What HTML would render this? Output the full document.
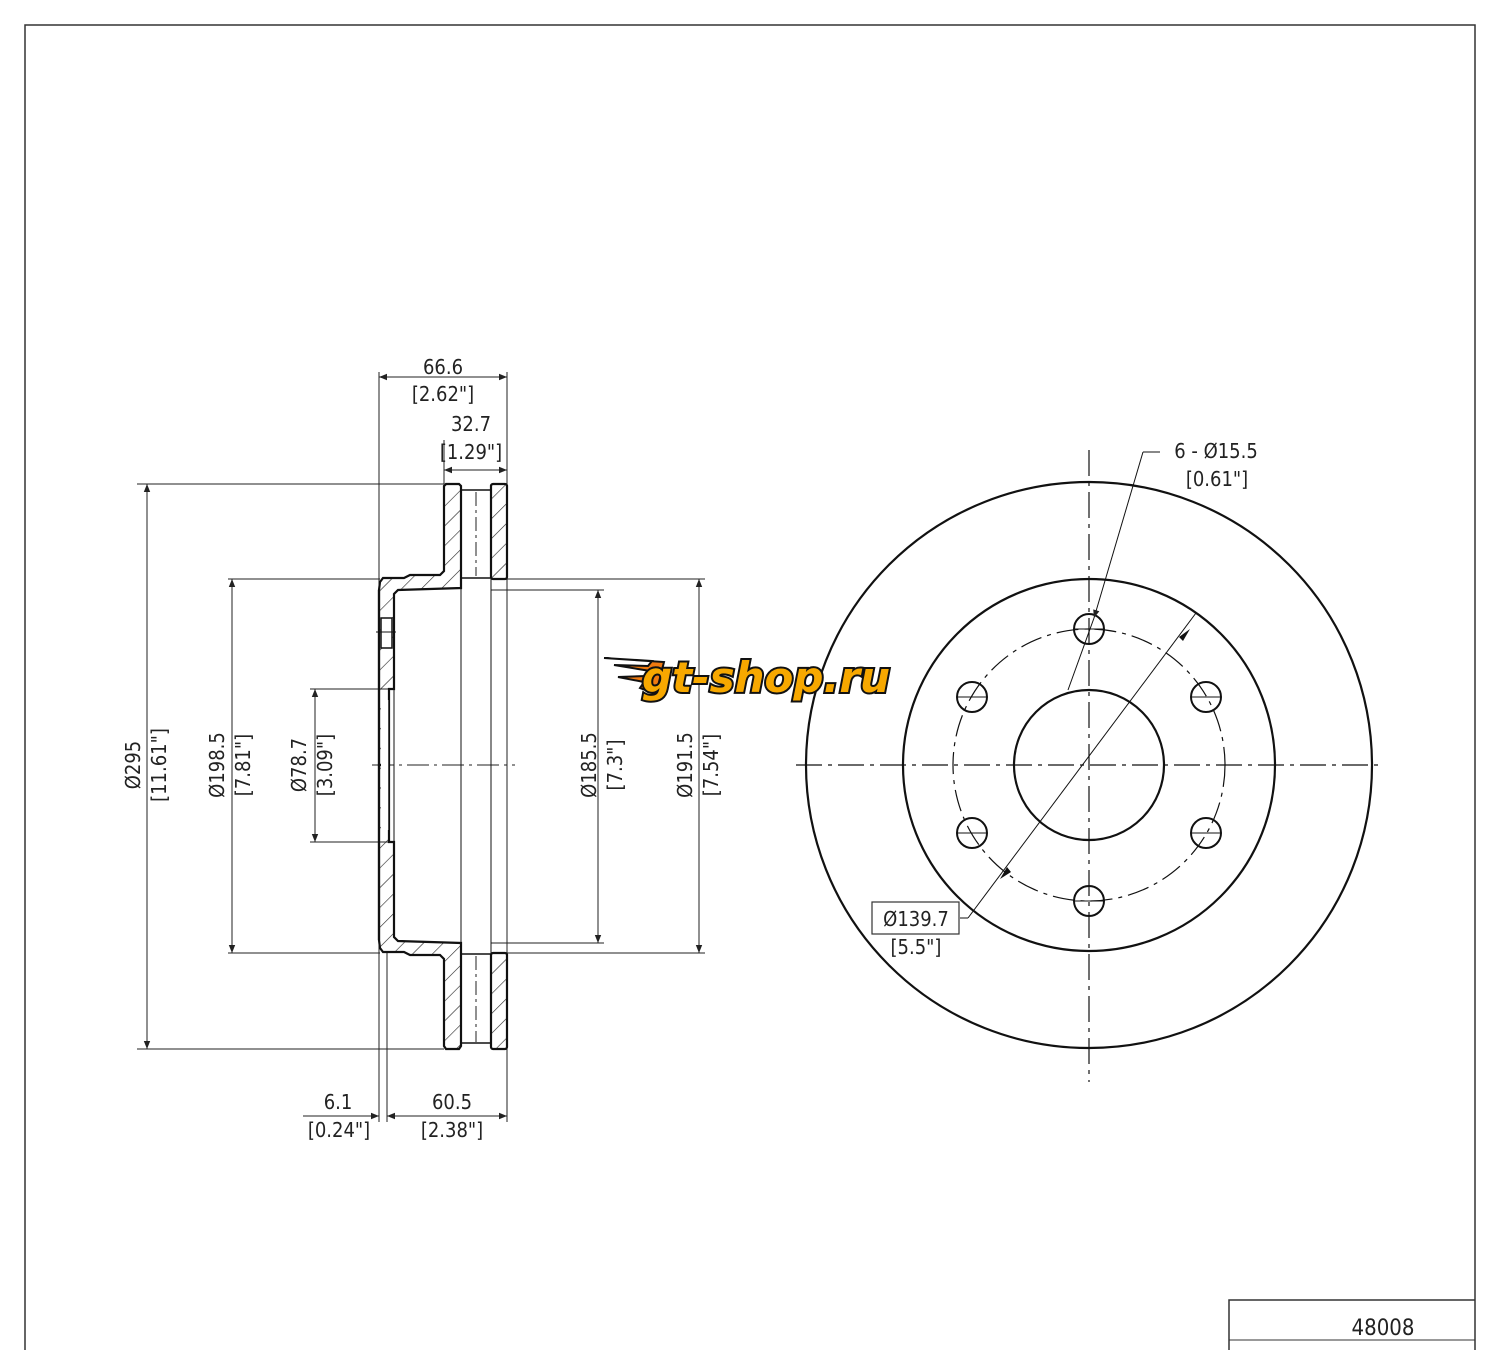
<!DOCTYPE html>
<html><head><meta charset="utf-8"><style>
html,body{margin:0;padding:0;background:#fff;}
svg{display:block;}
text{font-family:"DejaVu Sans Condensed","Liberation Sans",sans-serif;font-size:20px;fill:#222;}
</style></head><body>
<svg width="1500" height="1350" viewBox="0 0 1500 1350" xmlns="http://www.w3.org/2000/svg">
<defs>
<pattern id="h" patternUnits="userSpaceOnUse" width="14" height="14" patternTransform="rotate(45)">
<line x1="0" y1="0" x2="0" y2="14" stroke="#222" stroke-width="1.2"/>
</pattern>
<marker id="a" viewBox="0 0 10 10" refX="10" refY="5" markerWidth="12" markerHeight="8" orient="auto-start-reverse" markerUnits="userSpaceOnUse">
<path d="M0,1 L10,5 L0,9 z" fill="#222"/></marker>
</defs>
<rect x="0" y="0" width="1500" height="1350" fill="#fff"/>
<!-- frame -->
<polyline points="25,1350 25,25 1475,25 1475,1350" fill="none" stroke="#333" stroke-width="1.5"/>
<polyline points="1229,1350 1229,1300 1475,1300" fill="none" stroke="#333" stroke-width="1.5"/>
<line x1="1229" y1="1340" x2="1475" y2="1340" stroke="#333" stroke-width="1"/>
<text x="1383" y="1335" text-anchor="middle" style="font-size:22px">48008</text>

<g stroke="#222" fill="none" stroke-width="1">
<line x1="137" y1="484" x2="444" y2="484"/>
<line x1="137" y1="1049" x2="444" y2="1049"/>
<line x1="228" y1="579" x2="380" y2="579"/>
<line x1="228" y1="953" x2="380" y2="953"/>
<line x1="310" y1="689" x2="389" y2="689"/>
<line x1="310" y1="842" x2="389" y2="842"/>
<line x1="491" y1="590" x2="604" y2="590"/>
<line x1="491" y1="943" x2="604" y2="943"/>
<line x1="507" y1="579" x2="705" y2="579"/>
<line x1="507" y1="953" x2="705" y2="953"/>
<line x1="379" y1="372" x2="379" y2="1122"/>
<line x1="387" y1="953" x2="387" y2="1122"/>
<line x1="507" y1="372" x2="507" y2="1122"/>
<line x1="444" y1="440" x2="444" y2="484"/>
<line x1="147" y1="484" x2="147" y2="1049" marker-start="url(#a)" marker-end="url(#a)"/>
<line x1="232" y1="579" x2="232" y2="953" marker-start="url(#a)" marker-end="url(#a)"/>
<line x1="315" y1="689" x2="315" y2="842" marker-start="url(#a)" marker-end="url(#a)"/>
<line x1="598" y1="590" x2="598" y2="943" marker-start="url(#a)" marker-end="url(#a)"/>
<line x1="699" y1="579" x2="699" y2="953" marker-start="url(#a)" marker-end="url(#a)"/>
<line x1="379" y1="377" x2="507" y2="377" marker-start="url(#a)" marker-end="url(#a)"/>
<line x1="444" y1="470" x2="507" y2="470" marker-start="url(#a)" marker-end="url(#a)"/>
<line x1="303" y1="1116" x2="379" y2="1116" marker-end="url(#a)"/>
<line x1="387" y1="1116" x2="507" y2="1116" marker-start="url(#a)" marker-end="url(#a)"/>
<line x1="372" y1="765" x2="515" y2="765" stroke-dasharray="22,5,3,5"/>
<line x1="476" y1="492" x2="476" y2="576" stroke-dasharray="14,4,3,4"/>
<line x1="476" y1="956" x2="476" y2="1042" stroke-dasharray="14,4,3,4"/>
</g>

<g stroke="#111" stroke-width="2.2" fill="url(#h)">
<polygon points="380,582 383,578 404,578 410,575 440,575 444,571 444,486 446,484 459,484 461,486 461,588 398,590 394,594 394,689 389,689 389,765 379,765 379,590"/>
<polygon points="380,948 383,952 404,952 410,955 440,955 444,959 444,1046 446,1049 459,1049 461,1046 461,943 398,941 394,937 394,842 389,842 389,765 379,765 379,940"/>
<rect x="491" y="484" width="16" height="95" rx="2"/>
<rect x="491" y="953" width="16" height="96" rx="2"/>
</g>
<rect x="381" y="700" width="8" height="130" fill="#fff"/>
<line x1="379" y1="590" x2="379" y2="940" stroke="#111" stroke-width="2.2"/>
<line x1="389" y1="689" x2="389" y2="842" stroke="#111" stroke-width="1.5"/>
<rect x="381" y="618" width="11" height="30" fill="#fff" stroke="#111" stroke-width="1.5"/>
<line x1="376" y1="632" x2="396" y2="632" stroke="#111" stroke-width="1"/>
<g stroke="#111" stroke-width="1.5">
<line x1="461" y1="490" x2="491" y2="490"/><line x1="461" y1="578" x2="491" y2="578"/>
<line x1="461" y1="954" x2="491" y2="954"/><line x1="461" y1="1043" x2="491" y2="1043"/>
<line x1="461" y1="588" x2="461" y2="943" stroke-width="1"/>
<line x1="491" y1="579" x2="491" y2="953" stroke-width="1"/>
<line x1="394" y1="689" x2="394" y2="842" stroke-width="1"/>
</g>

<text x="443" y="374" text-anchor="middle">66.6</text>
<text x="443" y="401" text-anchor="middle">[2.62"]</text>
<text x="471" y="431" text-anchor="middle">32.7</text>
<text x="471" y="459" text-anchor="middle">[1.29"]</text>
<text x="338" y="1109" text-anchor="middle">6.1</text>
<text x="339" y="1137" text-anchor="middle">[0.24"]</text>
<text x="452" y="1109" text-anchor="middle">60.5</text>
<text x="452" y="1137" text-anchor="middle">[2.38"]</text>
<g text-anchor="middle">
<text transform="translate(140,765) rotate(-90)">Ø295</text>
<text transform="translate(166,765) rotate(-90)">[11.61"]</text>
<text transform="translate(224,765) rotate(-90)">Ø198.5</text>
<text transform="translate(250,765) rotate(-90)">[7.81"]</text>
<text transform="translate(306,765) rotate(-90)">Ø78.7</text>
<text transform="translate(332,765) rotate(-90)">[3.09"]</text>
<text transform="translate(596,765) rotate(-90)">Ø185.5</text>
<text transform="translate(622,765) rotate(-90)">[7.3"]</text>
<text transform="translate(692,765) rotate(-90)">Ø191.5</text>
<text transform="translate(718,765) rotate(-90)">[7.54"]</text>
</g>

<g stroke="#111" fill="none">
<circle cx="1089" cy="765" r="283" stroke-width="2.2"/>
<circle cx="1089" cy="765" r="186" stroke-width="2.2"/>
<circle cx="1089" cy="765" r="75" stroke-width="2.2"/>
<circle cx="1089" cy="765" r="136" stroke-width="1.2" stroke-dasharray="22,6,4,6"/>
<line x1="796" y1="765" x2="1383" y2="765" stroke-width="1.2" stroke-dasharray="26,6,4,6"/>
<line x1="1089" y1="450" x2="1089" y2="1082" stroke-width="1.2" stroke-dasharray="26,6,4,6"/>
<g stroke-width="2">
<circle cx="1089" cy="629" r="15"/><circle cx="972" cy="697" r="15"/><circle cx="1206" cy="697" r="15"/>
<circle cx="972" cy="833" r="15"/><circle cx="1206" cy="833" r="15"/><circle cx="1089" cy="901" r="15"/>
</g>
<g stroke-width="1">
<line x1="1074" y1="629" x2="1104" y2="629"/><line x1="957" y1="697" x2="987" y2="697"/><line x1="1191" y1="697" x2="1221" y2="697"/>
<line x1="957" y1="833" x2="987" y2="833"/><line x1="1191" y1="833" x2="1221" y2="833"/><line x1="1074" y1="901" x2="1104" y2="901"/>
<line x1="1160" y1="452" x2="1143" y2="452"/>
<line x1="1143" y1="452" x2="1094" y2="618" marker-end="url(#a)"/>
<line x1="1094" y1="618" x2="1068" y2="690"/>
<line x1="960" y1="918" x2="968" y2="918"/>
<line x1="968" y1="918" x2="1196" y2="613"/>
</g>
</g>
<path d="M1007,867 L1000,879 L1011,872 z" fill="#111"/>
<path d="M1183,641 L1190,629 L1179,637 z" fill="#111"/>
<rect x="872" y="902" width="87" height="32" fill="none" stroke="#333" stroke-width="1.2"/>
<text x="916" y="926" text-anchor="middle">Ø139.7</text>
<text x="916" y="954" text-anchor="middle">[5.5"]</text>
<text x="1216" y="458" text-anchor="middle">6 - Ø15.5</text>
<text x="1217" y="486" text-anchor="middle">[0.61"]</text>

<!-- logo -->
<g transform="translate(604,656)">
<path d="M0,2 L48,5 L44,10 L10,9 L46,15 L42,20 L14,21 L40,26 L36,32 L52,38 L60,6 z" fill="#f07a10" stroke="#111" stroke-width="2"/>
<text x="38" y="36" textLength="248" lengthAdjust="spacingAndGlyphs" style="font-family:'DejaVu Sans','Liberation Sans',sans-serif;font-size:42px;font-weight:bold;font-style:italic;fill:#f7a800;stroke:#111;stroke-width:4px;paint-order:stroke">gt-shop.ru</text>
</g>
</svg>
</body></html>
